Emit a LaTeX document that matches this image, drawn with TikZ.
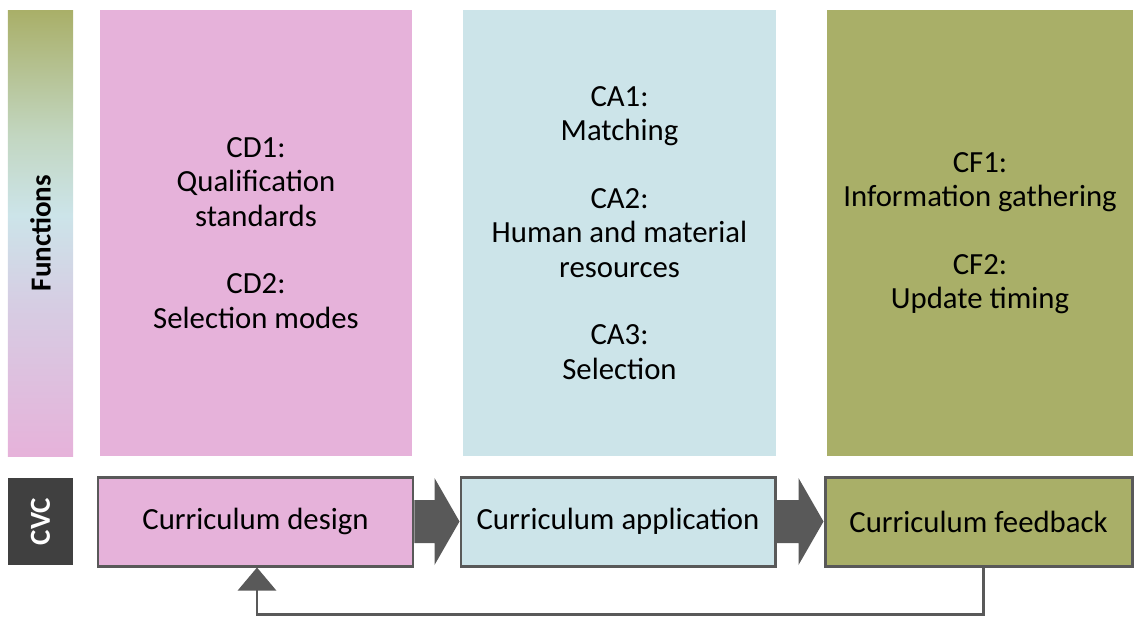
\documentclass[tikz,border=0pt]{standalone}
\usepackage{fontspec}
\setmainfont{Carlito}
\usetikzlibrary{calc,arrows.meta}

\definecolor{cdpink}{HTML}{E6B2DA}
\definecolor{cablue}{HTML}{CCE4E9}
\definecolor{cfolive}{HTML}{A9AF68}
\definecolor{edgegray}{HTML}{595959}
\definecolor{cvcgray}{HTML}{404040}
\definecolor{palegreen}{HTML}{C2D6C0}
\definecolor{lavender}{HTML}{D6CDE3}

\pgfdeclareverticalshading{funcshade}{100bp}{color(0bp)=(cdpink); color(25bp)=(cdpink);
  color(42bp)=(lavender); color(52bp)=(cablue); color(61bp)=(palegreen);
  color(75bp)=(cfolive); color(100bp)=(cfolive)}

\tikzset{
  column/.style={rectangle, minimum height=8.92cm, align=center, inner sep=0pt,
    font=\fontsize{17.5}{19.5}\selectfont},
  stage/.style={rectangle, draw=edgegray, line width=1.7pt, minimum height=1.78cm,
    font=\fontsize{17.5}{19.5}\selectfont},
  sidelabel/.style={rotate=90, font=\fontsize{16.5}{18}\selectfont\bfseries}
}

\begin{document}
\begin{tikzpicture}
\useasboundingbox (0,0) rectangle (22.68,-12.32);
% functions bar
\node[rectangle, minimum width=1.3cm, minimum height=8.92cm, inner sep=0pt,
  shading=funcshade] (funcs) at (0.81,-4.66) {};
\node[sidelabel] (funclabel) at (funcs.center) {Functions};
% columns
\node[column, fill=cdpink, minimum width=6.24cm] (cd) at (5.12,-4.66)
  {CD1:\\Qualification\\standards\\[19pt]CD2:\\Selection modes};
\node[column, fill=cablue, minimum width=6.26cm] (ca) at (12.39,-4.66)
  {CA1:\\Matching\\[19pt]CA2:\\Human and material\\resources\\[19pt]CA3:\\Selection};
\node[column, fill=cfolive, minimum width=6.12cm] (cf) at (19.6,-4.66)
  {CF1:\\Information gathering\\[19pt]CF2:\\Update timing};
% cvc row
\node[sidelabel, fill=cvcgray, text=white, minimum width=1.74cm, minimum height=1.3cm,
  inner sep=0pt] (cvc) at (0.81,-10.43) {CVC};
\node[stage, fill=cdpink, minimum width=6.3cm] (design) at (5.11,-10.43) {Curriculum design};
\node[stage, fill=cablue, minimum width=6.28cm] (app) at (12.36,-10.43) {Curriculum application};
\node[stage, fill=cfolive, minimum width=6.14cm] (feed) at (19.57,-10.43) {Curriculum feedback};
% block arrows
\foreach \a/\b in {design/app, app/feed}
  \fill[edgegray] ($(\a.east)+(0,0.43)$) -- ($(\b.west)+(-0.5,0.43)$)
    -- ($(\b.west)+(-0.5,0.87)$) -- (\b.west) -- ($(\b.west)+(-0.5,-0.87)$)
    -- ($(\b.west)+(-0.5,-0.43)$) -- ($(\a.east)+(0,-0.43)$) -- cycle;
% feedback loop
\draw[edgegray, line width=1.7pt, -{Triangle[width=0.76cm,length=0.46cm]}]
  ($(feed.south)+(0.09,0)$) -- ++(0,-0.94) -| ($(design.south)+(0.03,0)$);
\end{tikzpicture}
\end{document}
